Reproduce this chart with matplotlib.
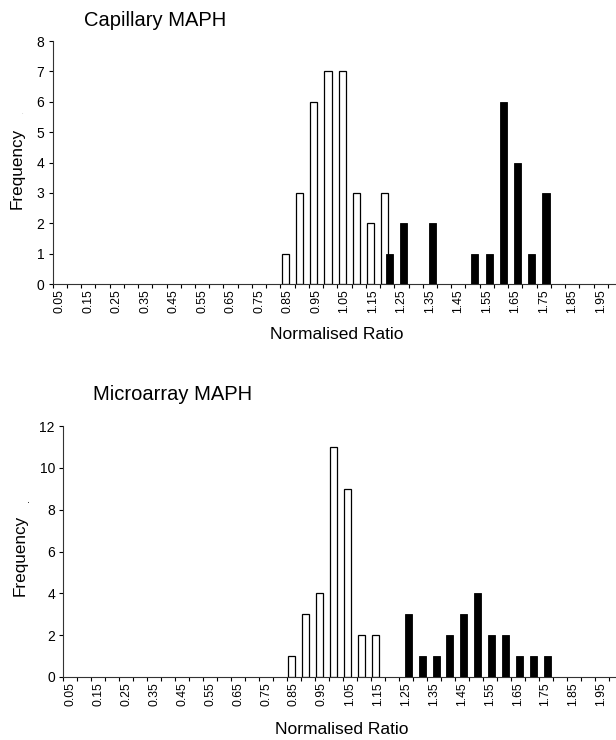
import matplotlib
matplotlib.use("Agg")
import matplotlib.pyplot as plt
import numpy as np

plt.rcParams['font.family'] = ['Liberation Sans', 'DejaVu Sans']

# Category bins (Normalised Ratio)
bins = [round(0.05 * i, 2) for i in range(1, 41)]  # 0.05 .. 2.00
tick_labels = ["%.2f" % b for b in bins]

# Capillary MAPH
cap_white = {0.85: 1, 0.90: 3, 0.95: 6, 1.00: 7, 1.05: 7, 1.10: 3, 1.15: 2, 1.20: 3}
cap_black = {1.20: 1, 1.25: 2, 1.35: 2, 1.50: 1, 1.55: 1, 1.60: 6, 1.65: 4, 1.70: 1, 1.75: 3}

# Microarray MAPH
mic_white = {0.85: 1, 0.90: 3, 0.95: 4, 1.00: 11, 1.05: 9, 1.10: 2, 1.15: 2}
mic_black = {1.25: 3, 1.30: 1, 1.35: 1, 1.40: 2, 1.45: 3, 1.50: 4, 1.55: 2,
             1.60: 2, 1.65: 1, 1.70: 1, 1.75: 1}

def series(d):
    return np.array([d.get(b, 0) for b in bins])

W = 616 / 100.0
H = 740 / 100.0
fig = plt.figure(figsize=(W, H), dpi=100)

def px_axes(left, bottom_px, right, top_px):
    return fig.add_axes([left / 616, 1 - bottom_px / 740, (right - left) / 616,
                         (bottom_px - top_px) / 740])

def draw(ax, white, black, ymax, ystep):
    x = np.arange(len(bins))
    ws = series(white)
    bs = series(black)
    bw = 0.5
    off = 0.16
    m = ws > 0
    ax.bar(x[m] - off, ws[m], width=bw, color='white', edgecolor='black', linewidth=0.9, zorder=2)
    m = bs > 0
    ax.bar(x[m] + off, bs[m], width=bw, color='black', edgecolor='black', linewidth=0.6, zorder=3)
    ax.set_xlim(-0.5, len(bins) - 0.5)
    ax.set_ylim(0, ymax)
    ax.set_yticks(np.arange(0, ymax + 0.1, ystep))
    ax.tick_params(axis='y', direction='out', length=3, width=0.8, labelsize=10, pad=3)
    # tick marks at category boundaries, labels at every other centre
    ax.set_xticks(np.arange(len(bins) + 1) - 0.5)
    ax.set_xticklabels([])
    ax.tick_params(axis='x', which='major', direction='out', length=3, width=0.8)
    ax.set_xticks(x[::2], minor=True)
    ax.set_xticklabels(tick_labels[::2], minor=True, rotation=90, fontsize=8.8)
    ax.tick_params(axis='x', which='minor', length=0, pad=4)
    for s in ['top', 'right']:
        ax.spines[s].set_visible(False)
    for s in ['left', 'bottom']:
        ax.spines[s].set_linewidth(0.8)
        ax.spines[s].set_color('#333333')

ax1 = px_axes(52.7, 284, 622, 41)
draw(ax1, cap_white, cap_black, 8, 1)
ax2 = px_axes(63.3, 677, 622.5, 426)
draw(ax2, mic_white, mic_black, 12, 2)

fig.text(84 / 616, 1 - 21 / 740, "Capillary MAPH", fontsize=14.5, ha='left', va='center')
fig.text(92.7 / 616, 1 - 395 / 740, "Microarray MAPH", fontsize=14.5, ha='left', va='center')

fig.text(17 / 616, 1 - 168 / 740, "Frequency", fontsize=12.3, rotation=90, ha='center', va='center')
fig.text(22.7 / 616, 1 - 112 / 740, ".", fontsize=4, color='#999999', ha='center', va='center')
fig.text(20 / 616, 1 - 555 / 740, "Frequency", fontsize=12.3, rotation=90, ha='center', va='center')
fig.text(26 / 616, 1 - 501 / 740, ".", fontsize=8, rotation=90, ha='center', va='center')

fig.text(337 / 616, 1 - 335 / 740, "Normalised Ratio", fontsize=12.5, ha='center', va='center')
fig.text(342 / 616, 1 - 730 / 740, "Normalised Ratio", fontsize=12.5, ha='center', va='center')

fig.savefig("out.png", dpi=100)
